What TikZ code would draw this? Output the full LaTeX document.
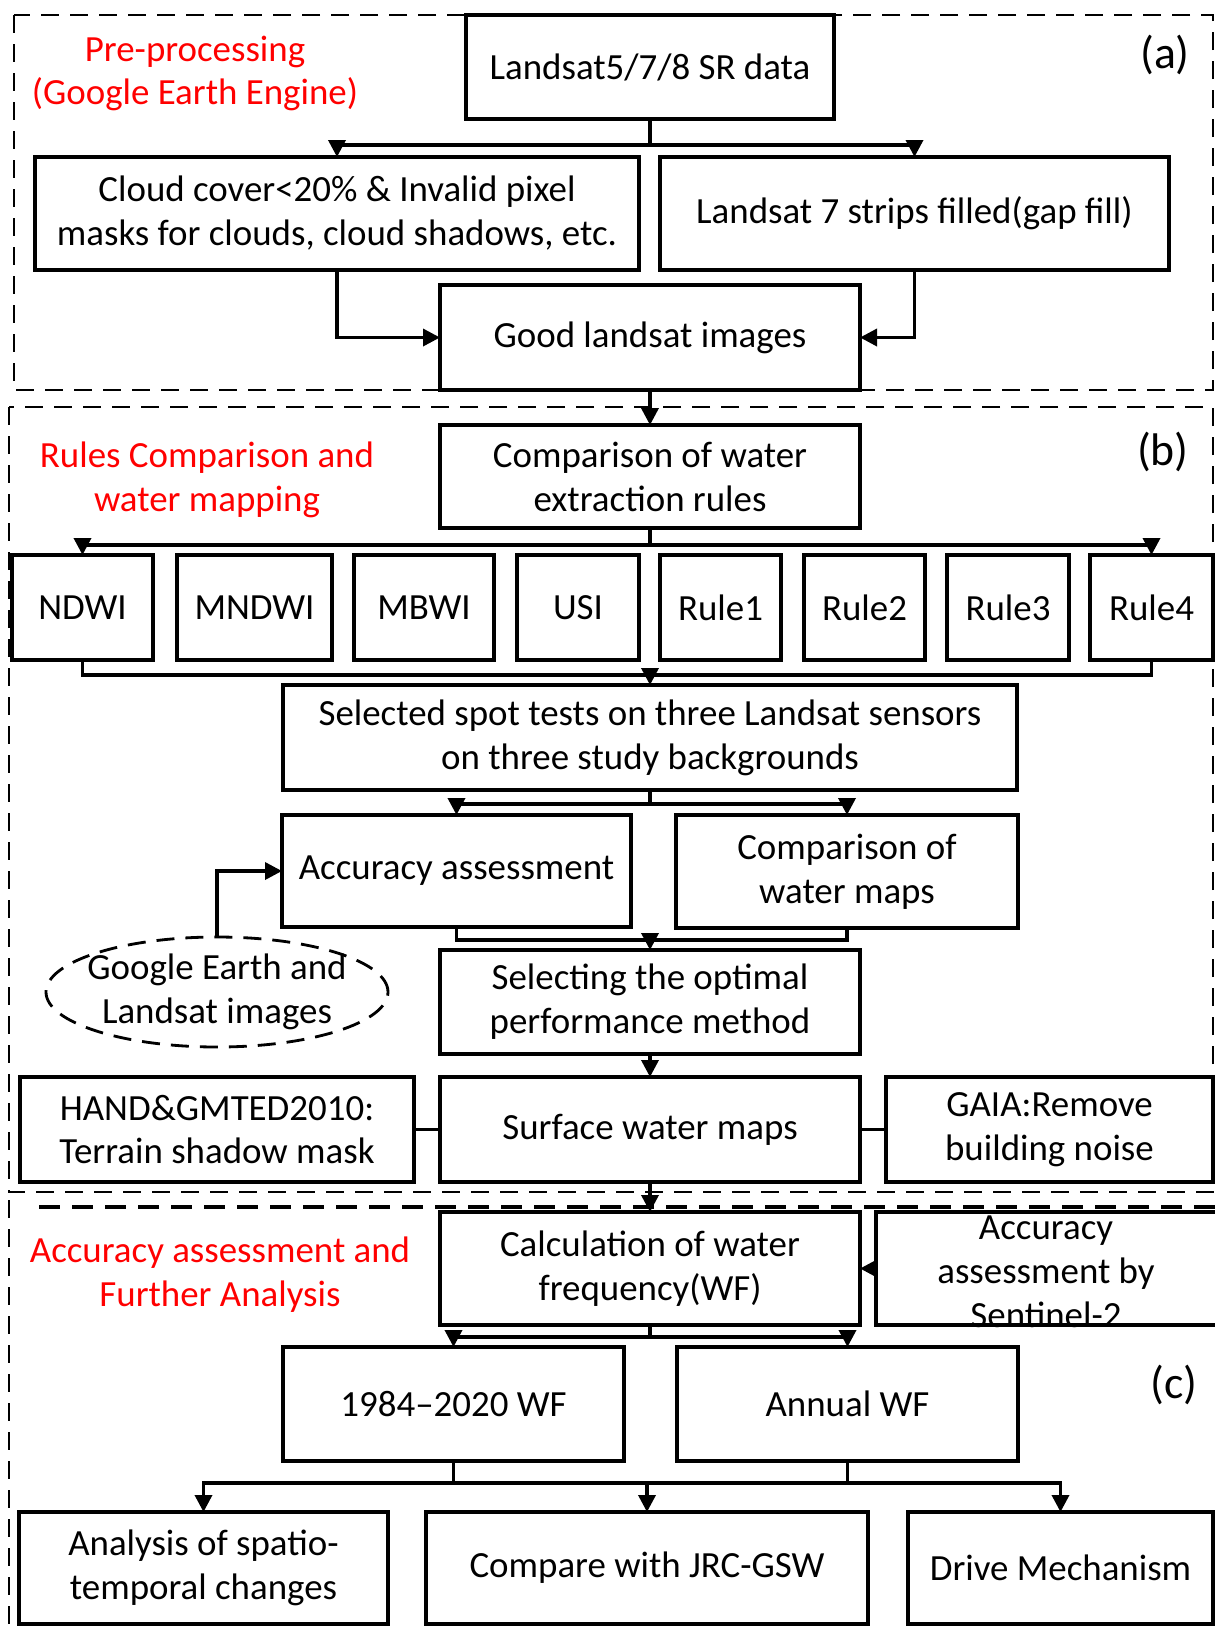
\documentclass[tikz,border=0pt]{standalone}
\usepackage{fontspec}
\setmainfont{Carlito}
\usetikzlibrary{arrows.meta, shapes.geometric}

\begin{document}
\begin{tikzpicture}[
    font=\fontsize{21}{25}\selectfont,
    box/.style={draw, line width=1.8pt, align=center, inner sep=1pt, outer sep=0pt},
    ln/.style={line width=2pt},
    arr/.style={-{Triangle[length=0.34cm, width=0.34cm]}, line width=2pt},
    frame/.style={line width=1.6pt, dash pattern=on 0.36cm off 0.22cm},
    tag/.style={text=red, align=center},
    lab/.style={font=\fontsize{26}{30}\selectfont},
  ]
  \useasboundingbox (0,0) rectangle (24.3,-32.52);

  % ── section frames ──
  \draw[frame] (0.28,-0.3) rectangle (24.26,-7.8);
  \draw[frame] (0.18,-8.14) rectangle (24.26,-23.84);
  \draw[frame] (0.18,-24.0) -- (0.18,-32.6);
  \draw[frame, line width=2.6pt, dash pattern=on 0.42cm off 0.24cm] (0.78,-24.14) -- (24.3,-24.14);
  \node[tag] (ta) at (3.9,-1.47) {Pre-processing\\(Google Earth Engine)};
  \node[tag] (tb) at (4.14,-9.6) {Rules Comparison and\\water mapping};
  \node[tag] (tc) at (4.4,-25.5) {Accuracy assessment and\\Further Analysis};
  \node[lab] (la) at (23.3,-1.1) {(a)};
  \node[lab] (lb) at (23.26,-9.04) {(b)};
  \node[lab] (lc) at (23.48,-27.7) {(c)};

  % ── (a) pre-processing ──
  \node[box, minimum width=7.36cm, minimum height=2.08cm] (land) at (13,-1.34) {Landsat5/7/8 SR data};
  \node[box, minimum width=12.08cm, minimum height=2.26cm] (cloud) at (6.74,-4.27)
       {Cloud cover<20\% \& Invalid pixel\\masks for clouds, cloud shadows, etc.};
  \node[box, minimum width=10.18cm, minimum height=2.26cm] (gap) at (18.29,-4.27) {Landsat 7 strips filled(gap fill)};
  \node[box, minimum width=8.4cm, minimum height=2.1cm] (good) at (13,-6.75) {Good landsat images};
  \coordinate (ja) at (13,-2.9);
  \draw[arr] (land.south) -- (ja) -| (cloud.north);
  \draw[arr] (ja) -| (gap.north);
  \draw[arr] (cloud.south) |- (good.west);
  \draw[arr] (gap.south) |- (good.east);

  % ── (b) rules comparison ──
  \node[box, minimum width=8.4cm, minimum height=2.06cm] (cmpr) at (13,-9.53) {Comparison of water\\extraction rules};
  \foreach \x/\w/\t [count=\i] in {1.65/2.82/NDWI, 5.09/3.1/MNDWI, 8.48/2.8/MBWI, 11.56/2.44/USI,
      14.41/2.42/Rule1, 17.29/2.42/Rule2, 20.16/2.44/Rule3, 23.03/2.46/Rule4}
    \node[box, minimum width=\w cm, minimum height=2.1cm] (r\i) at (\x,-12.15) {\t};
  \node[box, minimum width=14.68cm, minimum height=2.1cm] (spot) at (13,-14.75)
       {Selected spot tests on three Landsat sensors\\on three study backgrounds};
  \node[box, minimum width=6.98cm, minimum height=2.24cm] (acc) at (9.13,-17.42) {Accuracy assessment};
  \node[box, minimum width=6.84cm, minimum height=2.26cm] (maps) at (16.94,-17.43) {Comparison of\\water maps};
  \node[box, minimum width=8.4cm, minimum height=2.08cm] (best) at (13,-20.04) {Selecting the optimal\\performance method};
  \node[box, minimum width=8.4cm, minimum height=2.1cm] (surf) at (13,-22.59) {Surface water maps};
  \node[box, minimum width=7.88cm, minimum height=2.1cm] (hand) at (4.34,-22.59) {HAND\&GMTED2010:\\Terrain shadow mask};
  \node[box, minimum width=6.54cm, minimum height=2.1cm] (gaia) at (20.99,-22.59) {GAIA:Remove\\building noise};
  \node[draw, line width=1.6pt, dash pattern=on 0.36cm off 0.22cm, ellipse,
        minimum width=6.84cm, minimum height=2.2cm, inner sep=0pt] (ge) at (4.34,-19.84) {};
  \node[align=center] (get) at (ge) {Google Earth and\\Landsat images};
  \coordinate (jb) at (13,-10.9);
  \coordinate (jc) at (13,-13.5);
  \coordinate (jd) at (13,-16.08);
  \coordinate (je) at (13,-18.8);
  \draw[arr] (good) -- (cmpr);
  \draw[arr] (cmpr.south) -- (jb) -| (r1.north);
  \draw[arr] (jb) -| (r8.north);
  \draw[ln] (r1.south) |- (jc) -| (r8.south);
  \draw[arr] (jc) -- (spot.north);
  \draw[arr] (spot.south) -- (jd) -| (acc.north);
  \draw[arr] (jd) -| (maps.north);
  \draw[ln] (acc.south) |- (je) -| (maps.south);
  \draw[arr] (je) -- (best.north);
  \draw[arr] (ge.north) |- (acc.west);
  \draw[arr] (best) -- (surf);
  \draw[ln] (hand) -- (surf);
  \draw[ln] (surf) -- (gaia);

  % ── (c) accuracy and analysis ──
  \node[box, minimum width=8.4cm, minimum height=2.26cm] (calc) at (13,-25.37) {Calculation of water\\frequency(WF)};
  \node[box, minimum width=6.88cm, minimum height=2.26cm] (sen) at (20.96,-25.37) {};
  \node[align=center] (sent) at (20.92,-25.44) {Accuracy\\assessment by\\Sentinel-2};
  \node[box, minimum width=6.82cm, minimum height=2.28cm] (wf1) at (9.07,-28.08) {1984--2020 WF};
  \node[box, minimum width=6.82cm, minimum height=2.28cm] (wf2) at (16.95,-28.08) {Annual WF};
  \node[box, minimum width=7.38cm, minimum height=2.24cm] (an) at (4.07,-31.36) {Analysis of spatio-\\temporal changes};
  \node[box, minimum width=8.84cm, minimum height=2.24cm] (cw) at (12.94,-31.36) {Compare with JRC-GSW};
  \node[box, minimum width=6.1cm, minimum height=2.24cm] (dm) at (21.21,-31.36) {Drive Mechanism};
  \coordinate (jf) at (13,-26.74);
  \coordinate (jg) at (13,-29.66);
  \draw[arr] (surf) -- (calc);
  \draw[arr] (sen) -- (calc);
  \draw[arr] (calc.south) -- (jf) -| (wf1.north);
  \draw[arr] (jf) -| (wf2.north);
  \draw[ln] (wf1.south) -- (wf1.south |- jg);
  \draw[ln] (wf2.south) -- (wf2.south |- jg);
  \draw[arr] (jg) -| (an.north);
  \draw[arr] (jg) -| (dm.north);
  \draw[arr] (cw.north |- jg) -- (cw.north);
\end{tikzpicture}
\end{document}
